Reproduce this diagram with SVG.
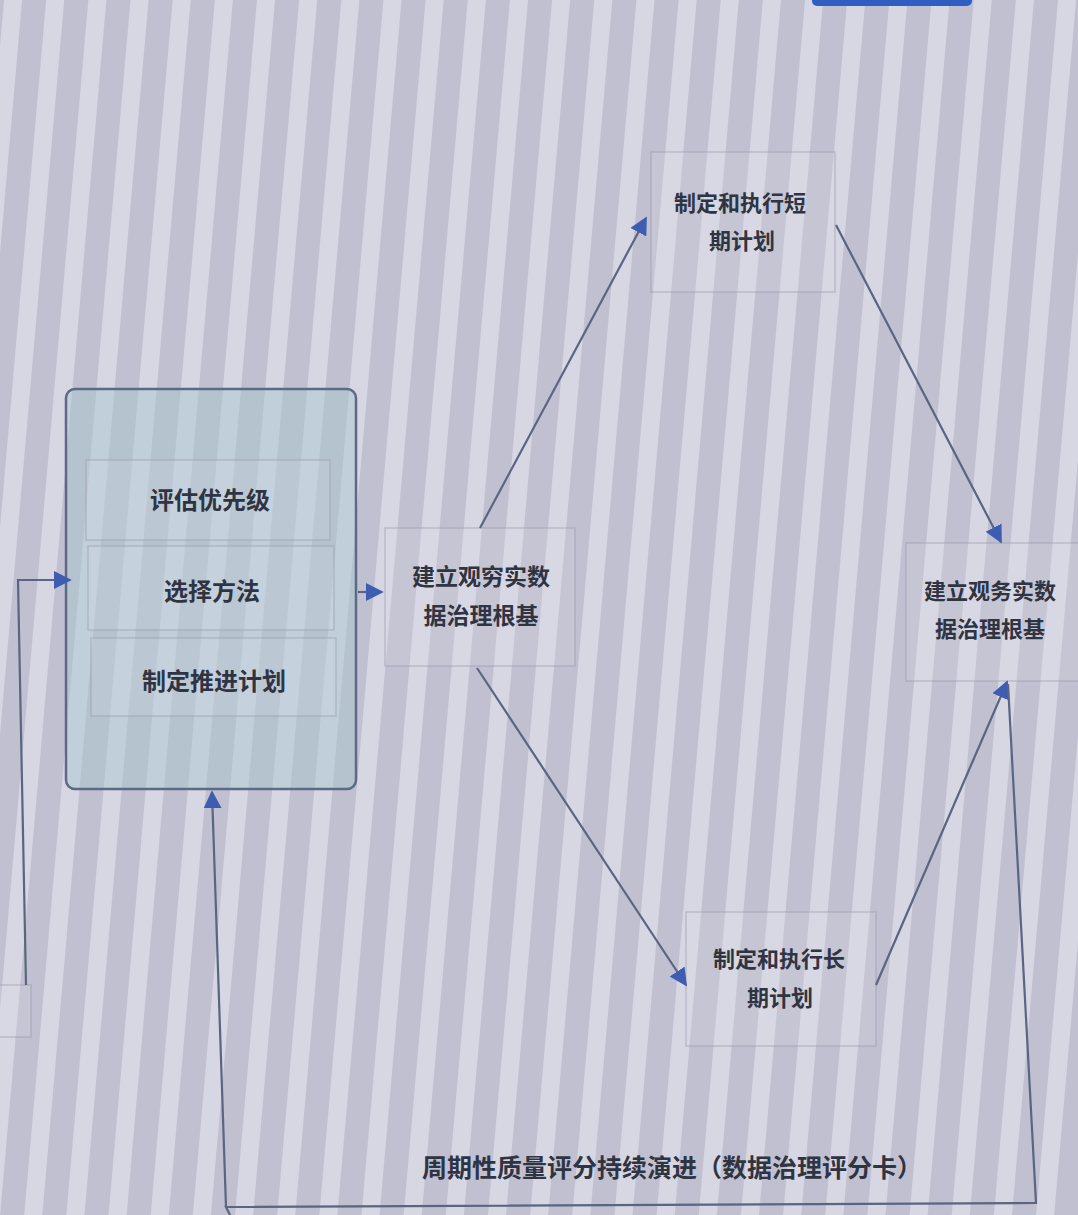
<svg xmlns="http://www.w3.org/2000/svg" width="1078" height="1215" viewBox="0 0 1078 1215">
<style>
.t{font-family:"Noto Sans CJK SC","Noto Sans",sans-serif;font-weight:700;fill:#2f3442;text-anchor:middle}
.n{fill:rgba(220,220,232,0.18);stroke:rgba(150,150,170,0.45);stroke-width:1.5}
.c{fill:none;stroke:#5b6480;stroke-width:2.2}
</style>
<defs>
<pattern id="st" width="42" height="1215" patternUnits="userSpaceOnUse" patternTransform="rotate(5)">
<rect width="42" height="1215" fill="#c1c0d0"/>
<rect x="4" width="18" height="1215" fill="#d7d6e3"/>
</pattern>
<marker id="ahb" viewBox="0 0 10 10" refX="9" refY="5" markerWidth="18" markerHeight="18" markerUnits="userSpaceOnUse" orient="auto">
<path d="M0,0 L10,5 L0,10 Z" fill="#3e5cb0"/>
</marker>
</defs>
<rect width="1078" height="1215" fill="url(#st)"/>
<rect x="812" y="-10" width="160" height="16" rx="5" fill="#2f5ec2"/>

<g id="node-left-edge"><rect class="n" x="-40" y="985" width="71" height="52"/></g>

<g id="node-container">
<rect x="66" y="389" width="290" height="400" rx="9" fill="rgba(165,200,205,0.45)" stroke="#5b6b85" stroke-width="2.5"/>
<g id="node-priority"><rect class="n" x="86" y="460" width="244" height="80"/><text class="t" x="210" y="509" font-size="24">评估优先级</text></g>
<g id="node-method"><rect class="n" x="88" y="546" width="246" height="84"/><text class="t" x="212" y="600" font-size="24">选择方法</text></g>
<g id="node-plan"><rect class="n" x="91" y="638" width="245" height="78"/><text class="t" x="214" y="690" font-size="24">制定推进计划</text></g>
</g>

<g id="node-a"><rect class="n" x="385" y="528" width="190" height="138"/>
<text class="t" x="481" y="585" font-size="23">建立观穷实数</text><text class="t" x="481" y="624" font-size="23">据治理根基</text></g>
<g id="node-b"><rect class="n" x="651" y="152" width="184" height="140"/>
<text class="t" x="740" y="211" font-size="22">制定和执行短</text><text class="t" x="742" y="249" font-size="22">期计划</text></g>
<g id="node-c"><rect class="n" x="686" y="912" width="190" height="134"/>
<text class="t" x="779" y="967" font-size="22">制定和执行长</text><text class="t" x="780" y="1006" font-size="22">期计划</text></g>
<g id="node-d"><rect class="n" x="906" y="543" width="180" height="138"/>
<text class="t" x="990" y="599" font-size="22">建立观务实数</text><text class="t" x="990" y="637" font-size="22">据治理根基</text></g>

<text class="t" x="672" y="1177" font-size="25">周期性质量评分持续演进（数据治理评分卡）</text>

<g id="connectors">
<path class="c" d="M26,985 L18,580 L70,580" marker-end="url(#ahb)"/>
<path class="c" d="M358,592 L382,592" marker-end="url(#ahb)"/>
<path class="c" d="M480,528 L646,218" marker-end="url(#ahb)"/>
<path class="c" d="M836,225 L1001,542" marker-end="url(#ahb)"/>
<path class="c" d="M477,668 L686,985" marker-end="url(#ahb)"/>
<path class="c" d="M876,985 L1007,682" marker-end="url(#ahb)"/>
<path class="c" d="M1008,684 L1036,1203 L226,1207 L230,1215"/>
<path class="c" d="M226,1207 L212,792" marker-end="url(#ahb)"/>
</g>
</svg>
